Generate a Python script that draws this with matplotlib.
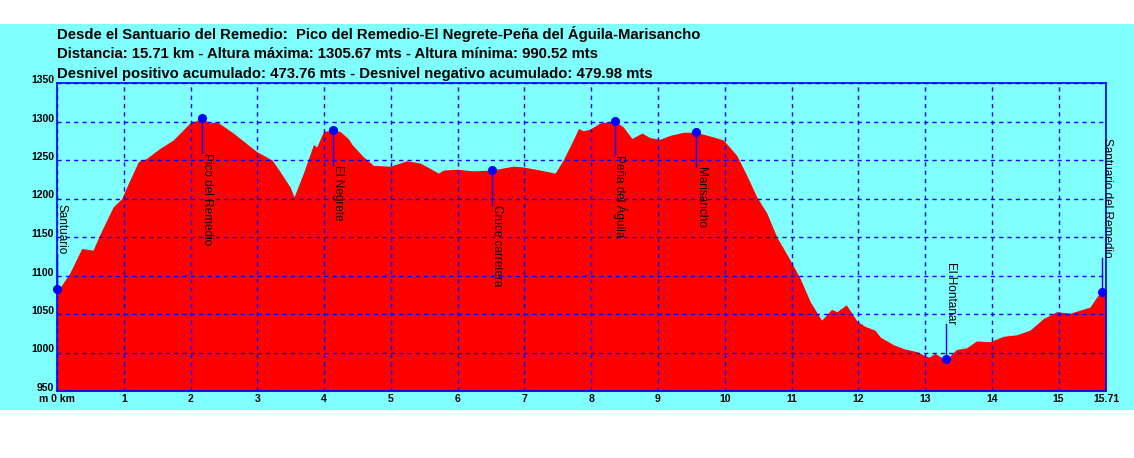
import matplotlib.pyplot as plt
from matplotlib.patches import Rectangle

# perfil: distancia (km) y altura (m)
km = [0.00, 0.01, 0.12, 0.19, 0.37, 0.54, 0.64, 0.84, 0.97, 1.07, 1.22, 1.34, 1.54, 1.74,
      1.99, 2.17, 2.29, 2.39, 2.64, 2.99, 3.22, 3.34, 3.49, 3.55, 3.69, 3.84, 3.89, 3.99,
      4.14, 4.24, 4.36, 4.42, 4.59, 4.74, 4.99, 5.24, 5.44, 5.59, 5.71, 5.79, 5.99, 6.23,
      6.52, 6.83, 6.98, 7.23, 7.46, 7.58, 7.73, 7.81, 7.88, 7.98, 8.13, 8.35, 8.48, 8.61,
      8.76, 8.88, 9.03, 9.18, 9.38, 9.57, 9.83, 9.98, 10.18, 10.33, 10.48, 10.63, 10.78,
      10.98, 11.13, 11.28, 11.45, 11.60, 11.68, 11.82, 11.98, 12.10, 12.25, 12.33, 12.53,
      12.68, 12.88, 12.97, 13.06, 13.15, 13.22, 13.32, 13.47, 13.62, 13.77, 13.97, 14.17,
      14.37, 14.57, 14.77, 14.97, 15.17, 15.32, 15.47, 15.57, 15.63, 15.71]
elev = [1083, 1080, 1094, 1103, 1135, 1133, 1153, 1189, 1200, 1220, 1248, 1252, 1265, 1276,
        1298, 1304, 1298, 1300, 1285, 1261, 1250, 1235, 1215, 1202, 1233, 1270, 1267, 1287,
        1289, 1287, 1278, 1270, 1254, 1243, 1242, 1249, 1246, 1239, 1233, 1237, 1238, 1236,
        1237, 1242, 1241, 1237, 1233, 1250, 1276, 1291, 1288, 1290, 1298, 1301, 1293, 1278,
        1285, 1279, 1277, 1282, 1286, 1286, 1280, 1276, 1256, 1230, 1202, 1181, 1150,
        1120, 1096, 1066, 1042, 1056, 1053, 1062, 1041, 1034, 1029, 1020, 1010,
        1005, 1001, 997, 994, 999, 995, 991, 1004, 1006, 1015, 1014, 1021,
        1023, 1029, 1044, 1053, 1051, 1055, 1059, 1072, 1078, 1080]

# puntos de paso
wp_names = ["Santuario", "Pico del Remedio", "El Negrete", "Cruce carretera",
            "Peña del Águila", "Marisancho", "El Hontanar", "Santuario del Remedio"]
wp_km = [0.0, 2.17, 4.14, 6.52, 8.35, 9.57, 13.32, 15.65]
wp_elev = [1083, 1304, 1289, 1237, 1301, 1286, 992, 1078]
wp_above = [True, False, False, False, False, False, True, True]

xticks = list(range(16)) + [15.71]
xlabels = ["m 0 km"] + [str(i) for i in range(1, 16)] + ["15.71"]
yticks = list(range(950, 1351, 50))

titulo = ["Desde el Santuario del Remedio:  Pico del Remedio-El Negrete-Peña del Águila-Marisancho",
          "Distancia: 15.71 km - Altura máxima: 1305.67 mts - Altura mínima: 990.52 mts",
          "Desnivel positivo acumulado: 473.76 mts - Desnivel negativo acumulado: 479.98 mts"]

plt.rcParams['font.family'] = ['Liberation Sans', 'DejaVu Sans']

W, H = 1134, 458
fig = plt.figure(figsize=(W / 100, H / 100), dpi=100, facecolor='white')
fig.patches.append(Rectangle((0, 48 / H), 1, 386 / H, transform=fig.transFigure,
                             facecolor='#80FFFF', edgecolor='none', zorder=-1))

for txt, yb in zip(titulo, [39.5, 58.5, 78]):
    fig.text(57 / W, 1 - yb / H, txt, fontsize=10.7, fontweight='bold', va='baseline', ha='left')

ax = fig.add_axes([57 / W, 67 / H, 1049 / W, 308 / H])
ax.set_facecolor('#80FFFF')
ax.fill_between(km, elev, 950, color='#FF0000', lw=0, zorder=1)

ax.set_xlim(0, 15.71)
ax.set_ylim(950, 1350)
ax.set_xticks(xticks)
ax.set_xticklabels(xlabels, fontweight='bold', fontsize=7.5)
ax.set_yticks(yticks)
ax.set_yticklabels([str(v) for v in yticks], fontweight='bold', fontsize=7.5, va='baseline')
ax.tick_params(length=0, pad=2)
ax.set_axisbelow(False)
ax.grid(True, color='blue', linestyle=(0, (3, 3)), linewidth=1)
for s in ax.spines.values():
    s.set_color('blue')
    s.set_linewidth(1.2)

# marcas de los puntos de paso
for name, x, y, up in zip(wp_names, wp_km, wp_elev, wp_above):
    y2 = y + 45 if up else y - 45
    ax.plot([x, x], [y, y2], color='blue', lw=1, zorder=4)
    ax.annotate(name, (x, y2), xytext=(-1, 0), textcoords='offset points',
                rotation=270, ha='left', va='bottom' if up else 'top',
                fontsize=8.5, zorder=6)
ax.plot(wp_km, wp_elev, 'o', color='blue', ms=5.5, zorder=5, clip_on=False)

fig.savefig('out.png', dpi=100)
